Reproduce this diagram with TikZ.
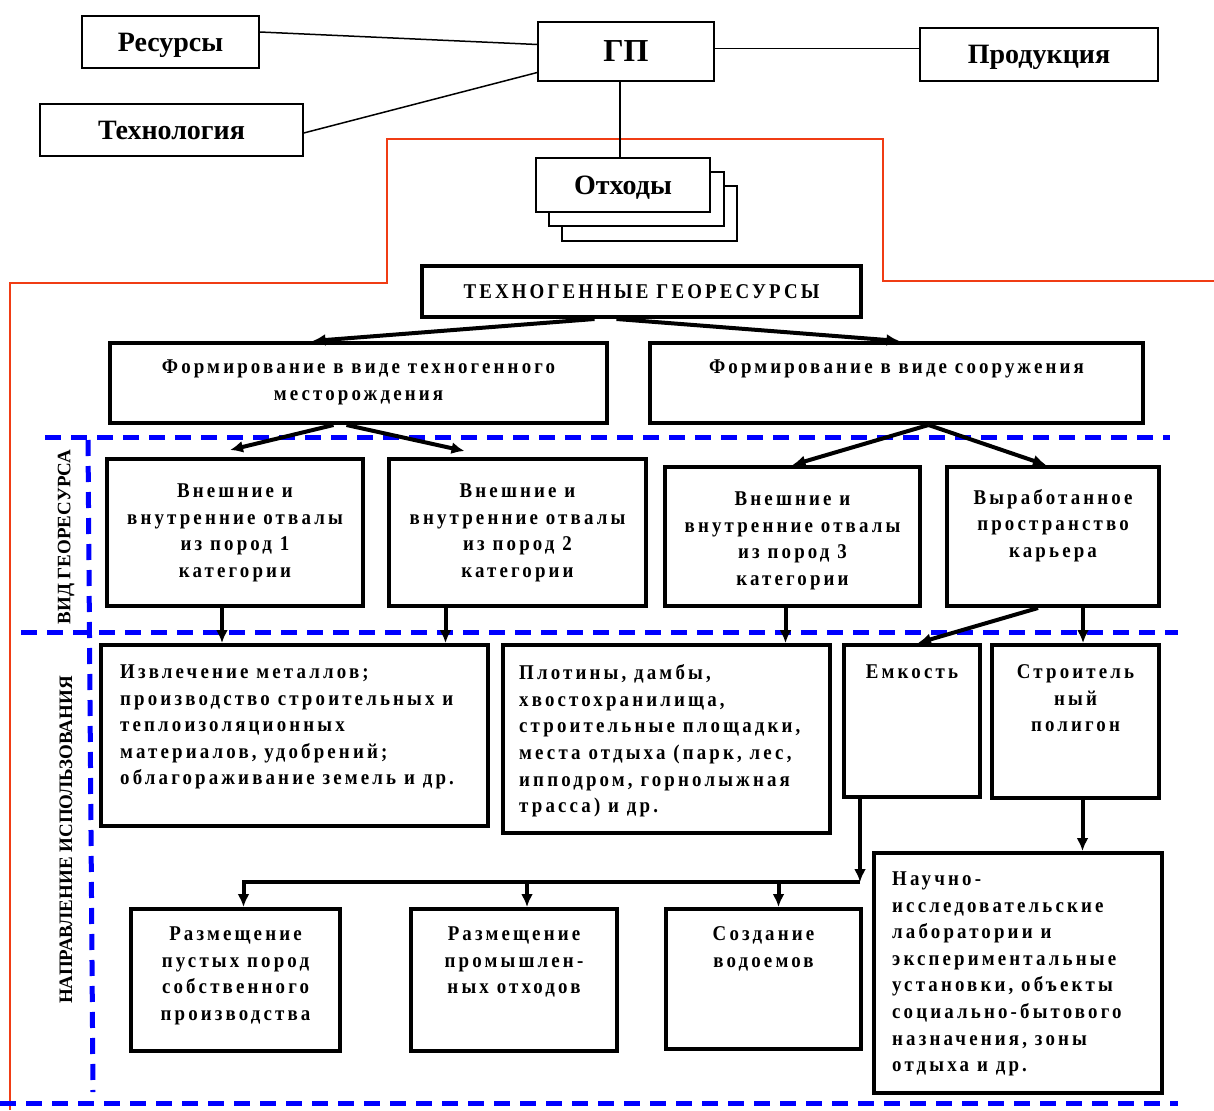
\documentclass[tikz,border=0pt]{standalone}
\usepackage{fontspec}
\setmainfont{Liberation Serif}
\newfontfamily\spaced[LetterSpace=15,FakeStretch=0.9]{Liberation Serif}
\usepackage{xcolor}
\usetikzlibrary{arrows.meta}
\definecolor{borderred}{RGB}{240,60,20}

\begin{document}
\begin{tikzpicture}[x=1pt,y=-1pt,
  topbox/.style={draw, line width=1.5pt, inner sep=0pt, text depth=0pt, font=\bfseries\fontsize{28}{32}\selectfont},
  geobox/.style={draw, line width=4pt, inner sep=0pt},
  txt/.style={font=\spaced\bfseries\fontsize{21}{26.6}\selectfont, align=center, anchor=north, inner sep=0pt},
  ltxt/.style={txt, align=left, anchor=north west},
  flow/.style={-{Latex[length=13pt,width=12pt]}, line width=4pt},
  zone/.style={draw=blue, dash pattern=on 16pt off 10pt, line width=5pt},
  side/.style={font=\bfseries\fontsize{19}{22}\selectfont, rotate=90, inner sep=0pt}]
\useasboundingbox (0,0) rectangle (1214,1110);

\draw[borderred, line width=1.5pt] (10,1110) -- (10,283) -- (387,283) -- (387,139) -- (883,139) -- (883,281) -- (1214,281);

\node[topbox, minimum width=177pt, minimum height=52pt] (res) at (170.5,42) {Ресурсы};
\node[topbox, minimum width=263pt, minimum height=52pt] (tech) at (171.5,130) {Технология};
\node[topbox, minimum width=176pt, minimum height=59pt, font=\bfseries\fontsize{32}{36}\selectfont] (gp) at (626,51.5) {ГП};
\node[topbox, minimum width=238pt, minimum height=53pt] (prod) at (1039,54.5) {Продукция};
\node[topbox, fill=white, minimum width=175pt, minimum height=55pt] (waste3) at (649.5,213.5) {};
\node[topbox, fill=white, minimum width=175pt, minimum height=54pt] (waste2) at (636.5,199) {};
\node[topbox, fill=white, minimum width=174pt, minimum height=54pt] (waste) at (623,185) {Отходы};

\draw[line width=1.5pt] ([yshift=10pt]res.east) -- ([yshift=7pt]gp.west);
\draw[line width=1.5pt] ([yshift=-3pt]tech.east) -- ([yshift=-21pt]gp.west);
\draw[line width=1.5pt] ([yshift=3pt]gp.east) -- ([yshift=3pt]gp.east -| prod.west);
\draw[line width=1.5pt] ([xshift=-6pt]gp.south) -- ([xshift=-6pt]gp.south |- waste.north);

\draw[zone] (45,437) -- (1170,437);
\draw[zone] (21,632) -- (1178,632);
\draw[zone] (0,1103) -- (1178,1103);
\draw[zone] (88,440) -- (93,1092);
\node[side] (kind) at (66,537) {ВИД ГЕОРЕСУРСА};
\node[side] (use) at (66,840) {НАПРАВЛЕНИЕ ИСПОЛЬЗОВАНИЯ};

\node[geobox, minimum width=439pt, minimum height=51pt, font=\spaced\bfseries\fontsize{21}{24}\selectfont] (tg) at (641.5,291.5) {ТЕХНОГЕННЫЕ ГЕОРЕСУРСЫ};

\node[geobox, minimum width=497pt, minimum height=80pt] (form1) at (358.5,383) {};
\node[txt] (form1t) at ([yshift=-19pt]form1.north) {Формирование в виде техногенного\\месторождения};
\node[geobox, minimum width=493pt, minimum height=80pt] (form2) at (896.5,383) {};
\node[txt] (form2t) at ([yshift=-19pt]form2.north) {Формирование в виде сооружения};

\node[geobox, minimum width=256pt, minimum height=147pt] (dump1) at (235,532.5) {};
\node[txt] (dump1t) at ([yshift=-26.5pt]dump1.north) {Внешние и\\внутренние отвалы\\из пород 1\\категории};
\node[geobox, minimum width=257pt, minimum height=147pt] (dump2) at (517.5,532.5) {};
\node[txt] (dump2t) at ([yshift=-26.5pt]dump2.north) {Внешние и\\внутренние отвалы\\из пород 2\\категории};
\node[geobox, minimum width=255pt, minimum height=139pt] (dump3) at (792.5,536.5) {};
\node[txt] (dump3t) at ([yshift=-26.5pt]dump3.north) {Внешние и\\внутренние отвалы\\из пород 3\\категории};
\node[geobox, minimum width=212pt, minimum height=139pt] (dump4) at (1053,536.5) {};
\node[txt] (dump4t) at ([yshift=-24pt]dump4.north) {Выработанное\\пространство\\карьера};

\node[geobox, minimum width=387pt, minimum height=181pt] (ext) at (294.5,735.5) {};
\node[ltxt] (extt) at ([xshift=21pt,yshift=-21.5pt]ext.north west) {Извлечение металлов;\\производство строительных и\\теплоизоляционных\\материалов, удобрений;\\облагораживание земель и др.};
\node[geobox, minimum width=327pt, minimum height=188pt] (dam) at (666.5,739) {};
\node[ltxt] (damt) at ([xshift=18pt,yshift=-21.5pt]dam.north west) {Плотины, дамбы,\\хвостохранилища,\\строительные площадки,\\места отдыха (парк, лес,\\ипподром, горнолыжная\\трасса) и др.};
\node[geobox, minimum width=136pt, minimum height=152pt] (tank) at (912,721) {};
\node[txt] (tankt) at ([yshift=-21.5pt]tank.north) {Емкость};
\node[geobox, minimum width=167pt, minimum height=153pt] (poly) at (1075.5,721.5) {};
\node[txt] (polyt) at ([yshift=-21.5pt]poly.north) {Строитель\\ный\\полигон};

\node[geobox, minimum width=209pt, minimum height=142pt] (place1) at (235.5,980) {};
\node[txt] (place1t) at ([yshift=-19.5pt]place1.north) {Размещение\\пустых пород\\собственного\\производства};
\node[geobox, minimum width=206pt, minimum height=142pt] (place2) at (514,980) {};
\node[txt] (place2t) at ([yshift=-19.5pt]place2.north) {Размещение\\промышлен-\\ных отходов};
\node[geobox, minimum width=195pt, minimum height=140pt] (pond) at (763.5,979) {};
\node[txt] (pondt) at ([yshift=-19.5pt]pond.north) {Создание\\водоемов};
\node[geobox, minimum width=288pt, minimum height=240pt] (sci) at (1018,973) {};
\node[ltxt] (scit) at ([xshift=20pt,yshift=-20.5pt]sci.north west) {Научно-\\исследовательские\\лаборатории и\\экспериментальные\\установки, объекты\\социально-бытового\\назначения, зоны\\отдыха и др.};

\draw[flow] ([xshift=-47pt]tg.south) -- ([xshift=-46pt]form1.north);
\draw[flow] ([xshift=-25pt]tg.south) -- ([xshift=3pt]form2.north);

\draw[flow] ([xshift=-25pt]form1.south) -- ([xshift=-5pt,yshift=7pt]dump1.north);
\draw[flow] ([xshift=-12pt]form1.south) -- ([xshift=-53pt,yshift=6pt]dump2.north);
\draw[flow] ([xshift=32pt]form2.south) -- (dump3.north);
\draw[flow] ([xshift=32pt]form2.south) -- ([xshift=-7pt]dump4.north);

\draw[flow] ([xshift=-13pt]dump1.south) -- ([xshift=-13pt]dump1.south |- ext.north);
\draw[flow] ([xshift=-72pt]dump2.south) -- ([xshift=-72pt]dump2.south |- ext.north);
\draw[flow] ([xshift=-7pt]dump3.south) -- ([xshift=-7pt]dump3.south |- dam.north);
\draw[flow] ([xshift=-15pt]dump4.south) -- ([xshift=6pt]tank.north);
\draw[flow] ([xshift=30pt]dump4.south) -- ([xshift=30pt]dump4.south |- poly.north);

\coordinate (hub) at (860,882);
\draw[flow] (tank.south -| hub) -- (hub);
\draw[flow] (hub) -| ([xshift=8pt]place1.north);
\draw[flow] ([xshift=13pt]place2.north |- hub) -- ([xshift=13pt]place2.north);
\draw[flow] ([xshift=15pt]pond.north |- hub) -- ([xshift=15pt]pond.north);
\draw[flow] ([xshift=7pt]poly.south) -- ([xshift=7pt]poly.south |- sci.north);
\end{tikzpicture}
\end{document}
